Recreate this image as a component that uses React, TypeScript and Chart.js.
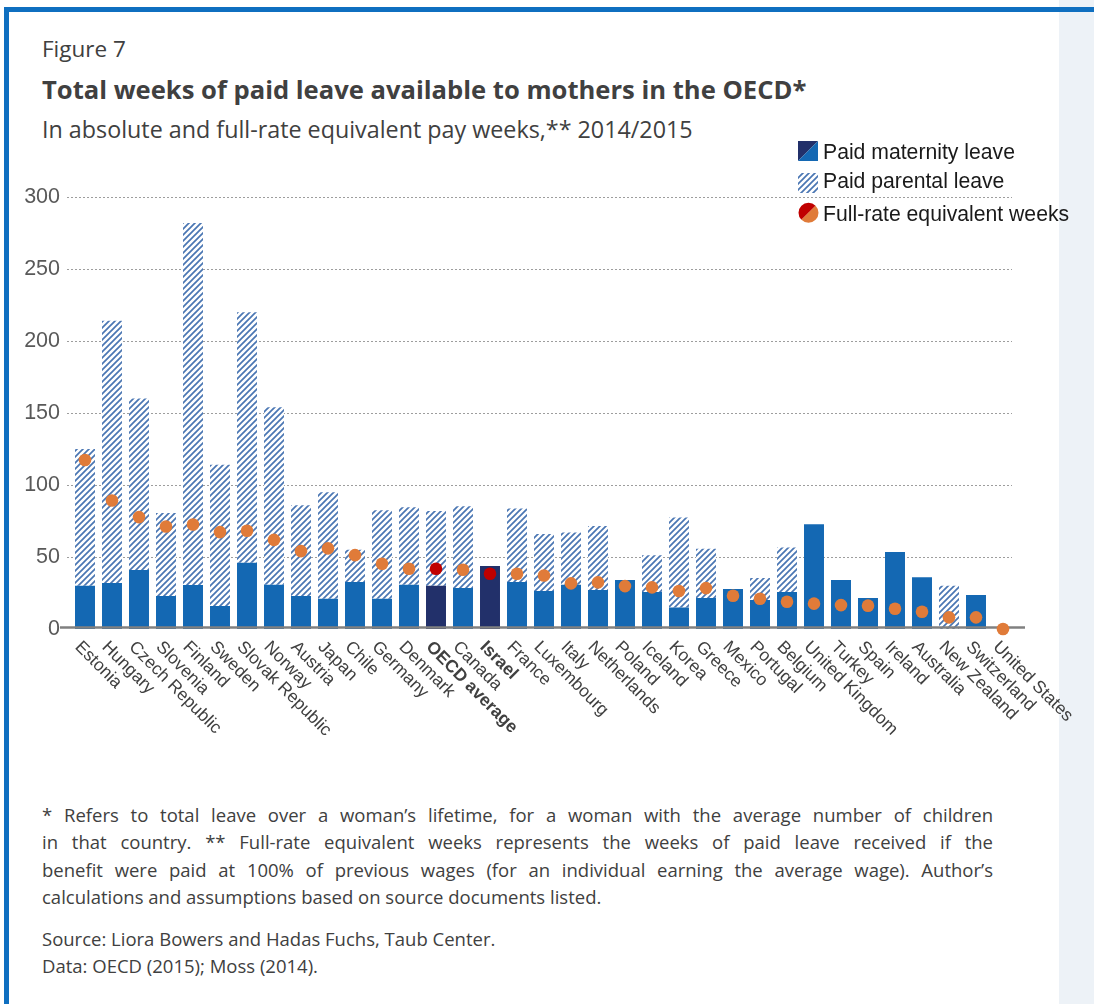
import React, { useEffect, useRef } from "react";
import { Chart, registerables } from "chart.js";

Chart.register(...registerables);

// Countries in display order (sorted by full-rate equivalent weeks)
const countries = [
  "Estonia", "Hungary", "Czech Republic", "Slovenia", "Finland", "Sweden",
  "Slovak Republic", "Norway", "Austria", "Japan", "Chile", "Germany",
  "Denmark", "OECD average", "Canada", "Israel", "France", "Luxembourg",
  "Italy", "Netherlands", "Poland", "Iceland", "Korea", "Greece", "Mexico",
  "Portugal", "Belgium", "United Kingdom", "Turkey", "Spain", "Ireland",
  "Australia", "New Zealand", "Switzerland", "United States",
];

// Weeks of paid maternity leave
const maternityWeeks = [
  30, 32, 41, 23, 30.5, 16, 46, 30.7, 23, 21, 32.6, 21,
  30.7, 30, 28.4, 43.7, 32.6, 26.4, 30.7, 27, 34, 25.7, 15, 21.5, 27.7,
  20.1, 25.7, 72.8, 34, 21.5, 53.4, 36, 0, 23.6, 0,
];

// Weeks of paid parental leave (stacked on top of maternity leave)
const parentalWeeks = [
  95, 182, 119, 57.5, 251.5, 98, 174, 123.3, 63, 74, 22.4, 61.5,
  53.8, 52, 56.9, 0, 51.1, 39.6, 36.3, 44.5, 0, 25.6, 62.5, 34.2, 0,
  15.3, 30.9, 0, 0, 0, 0, 0, 30, 0, 0,
];

// Full-rate equivalent weeks
const fullRateWeeks = [
  117.4, 89.2, 77.7, 71.2, 72.6, 67.3, 68.2, 61.9, 54.1, 56, 51.3, 45.3,
  41.8, 41.8, 41.1, 38.4, 38.4, 37.2, 31.7, 32.4, 29.8, 28.9, 26.4, 28.4, 23.1,
  21, 18.9, 17.6, 16.6, 16.2, 14.1, 12, 8.1, 8.1, 0,
];

const highlighted = ["OECD average", "Israel"];
const yTicks = [0, 50, 100, 150, 200, 250, 300];

const legendItems = [
  "Paid maternity leave",
  "Paid parental leave",
  "Full-rate equivalent weeks",
];

const footnoteJustified = [
  "* Refers to total leave over a woman’s lifetime, for a woman with the average number of children",
  "in that country. ** Full-rate equivalent weeks represents the weeks of paid leave received if the",
  "benefit were paid at 100% of previous wages (for an individual earning the average wage). Author’s",
];
const footnoteLast = "calculations and assumptions based on source documents listed.";
const sourceLine = "Source: Liora Bowers and Hadas Fuchs, Taub Center.";
const dataLine = "Data: OECD (2015); Moss (2014).";

const CANVAS_TOP = 130;
const CANVAS_W = 1094;
const CANVAS_H = 650;

const BLUE = "#1468b3";
const NAVY = "#22306a";
const HATCH = "#4a76b3";
const ORANGE = "#e07b39";
const RED = "#c00000";
const TEXT = "#404040";
const LABEL_FONT = '"Liberation Sans", Arial, sans-serif';

function makeHatch(): CanvasPattern | string {
  const c = document.createElement("canvas");
  c.width = 6;
  c.height = 6;
  const g = c.getContext("2d");
  if (!g) return HATCH;
  g.fillStyle = "#ffffff";
  g.fillRect(0, 0, 6, 6);
  g.strokeStyle = HATCH;
  g.lineWidth = 1.7;
  g.beginPath();
  g.moveTo(-1, 7);
  g.lineTo(7, -1);
  g.moveTo(-2, 2);
  g.lineTo(2, -2);
  g.moveTo(4, 8);
  g.lineTo(8, 4);
  g.stroke();
  return g.createPattern(c, "repeat") || HATCH;
}

function drawLegend(ctx: CanvasRenderingContext2D, hatch: CanvasPattern | string) {
  const x0 = 798;
  const top = (pageY: number) => pageY - CANVAS_TOP;
  ctx.save();
  // maternity: split square
  ctx.fillStyle = NAVY;
  ctx.beginPath();
  ctx.moveTo(x0, top(141));
  ctx.lineTo(x0 + 20, top(141));
  ctx.lineTo(x0, top(161));
  ctx.closePath();
  ctx.fill();
  ctx.fillStyle = BLUE;
  ctx.beginPath();
  ctx.moveTo(x0 + 20, top(141));
  ctx.lineTo(x0 + 20, top(161));
  ctx.lineTo(x0, top(161));
  ctx.closePath();
  ctx.fill();
  // parental: hatched square
  ctx.fillStyle = hatch;
  ctx.fillRect(x0, top(173), 20, 20);
  // full-rate: split circle
  const cx = x0 + 10.5;
  const cy = top(212.7);
  ctx.fillStyle = RED;
  ctx.beginPath();
  ctx.moveTo(cx, cy);
  ctx.arc(cx, cy, 10, (3 * Math.PI) / 4, (7 * Math.PI) / 4, false);
  ctx.closePath();
  ctx.fill();
  ctx.fillStyle = ORANGE;
  ctx.beginPath();
  ctx.moveTo(cx, cy);
  ctx.arc(cx, cy, 10, -Math.PI / 4, (3 * Math.PI) / 4, false);
  ctx.closePath();
  ctx.fill();

  ctx.fillStyle = "#1a1a1a";
  ctx.font = `21.2px ${LABEL_FONT}`;
  ctx.textBaseline = "alphabetic";
  ctx.textAlign = "left";
  const baselines = [158.5, 188, 221];
  legendItems.forEach((t, i) => ctx.fillText(t, 823, top(baselines[i])));
  ctx.restore();
}

export default function App() {
  const canvasRef = useRef<HTMLCanvasElement | null>(null);

  useEffect(() => {
    const canvas = canvasRef.current;
    if (!canvas) return;
    const hatch = makeHatch();

    const decor = {
      id: "decor",
      beforeDatasetsDraw(chart: any) {
        const { ctx, chartArea } = chart;
        const y = chart.scales.y;
        ctx.save();
        ctx.strokeStyle = "#9d9d9d";
        ctx.lineWidth = 1;
        ctx.setLineDash([2, 2]);
        yTicks.forEach((v) => {
          if (v === 0) return;
          const py = Math.round(y.getPixelForValue(v)) + 0.5;
          ctx.beginPath();
          ctx.moveTo(chartArea.left - 4.5, py);
          ctx.lineTo(chartArea.right - 4.5, py);
          ctx.stroke();
        });
        ctx.restore();
      },
      beforeDatasetDraw(chart: any, args: any) {
        if (args.meta.type !== "line") return;
        const { ctx, chartArea } = chart;
        const py = chart.scales.y.getPixelForValue(0) - 1.5;
        ctx.save();
        ctx.strokeStyle = "#808080";
        ctx.lineWidth = 2.5;
        ctx.beginPath();
        ctx.moveTo(chartArea.left - 11.5, py);
        ctx.lineTo(chartArea.right + 8.5, py);
        ctx.stroke();
        ctx.restore();
      },
      afterDraw(chart: any) {
        const { ctx, chartArea } = chart;
        const x = chart.scales.x;
        const base = chartArea.bottom + 10;
        countries.forEach((name, i) => {
          const px = x.getPixelForValue(i) - 2;
          ctx.save();
          ctx.translate(px, base);
          ctx.rotate(Math.PI / 4);
          const bold = highlighted.includes(name);
          ctx.font = `${bold ? "bold " : ""}17.5px ${LABEL_FONT}`;
          ctx.fillStyle = TEXT;
          ctx.textBaseline = "alphabetic";
          ctx.textAlign = "left";
          ctx.fillText(name, 0, 12.5);
          ctx.restore();
        });
        drawLegend(ctx, hatch);
      },
    };

    const chart = new Chart(canvas, {
      type: "bar",
      data: {
        labels: countries,
        datasets: [
          {
            type: "line",
            label: legendItems[2],
            data: fullRateWeeks,
            showLine: false,
            pointRadius: 6.3,
            pointHoverRadius: 6.3,
            pointBorderWidth: 0,
            pointBackgroundColor: countries.map((c) => (highlighted.includes(c) ? RED : ORANGE)),
            pointBorderColor: "rgba(0,0,0,0)",
            stack: "fullRate",
            order: 0,
            clip: false,
          } as any,
          {
            type: "bar",
            label: legendItems[0],
            data: maternityWeeks,
            backgroundColor: countries.map((c) => (highlighted.includes(c) ? NAVY : BLUE)),
            borderWidth: 0,
            stack: "leave",
            order: 1,
            barPercentage: 0.74,
            categoryPercentage: 1,
          },
          {
            type: "bar",
            label: legendItems[1],
            data: parentalWeeks,
            backgroundColor: hatch as any,
            borderWidth: 0,
            stack: "leave",
            order: 1,
            barPercentage: 0.74,
            categoryPercentage: 1,
          },
        ],
      },
      options: {
        responsive: false,
        animation: false,
        events: [],
        layout: { padding: { left: 0, right: 77.5, top: 67, bottom: 0 } },
        plugins: {
          legend: { display: false },
          tooltip: { enabled: false },
        },
        scales: {
          x: {
            stacked: true,
            grid: { display: false, drawTicks: false },
            border: { display: false },
            ticks: { display: false },
            afterFit: (scale: any) => {
              scale.height = 151;
            },
          },
          y: {
            stacked: true,
            min: 0,
            max: 300,
            grid: { display: false, drawTicks: false },
            border: { display: false },
            ticks: {
              stepSize: 50,
              padding: 11.5,
              color: "#595959",
              font: { family: LABEL_FONT, size: 21.5 },
            },
            afterFit: (scale: any) => {
              scale.width = 71.5;
            },
          },
        },
      },
      plugins: [decor],
    });

    return () => chart.destroy();
  }, []);

  const face = '"Open Sans", Lato, sans-serif';
  const noteStyle = {
    position: "absolute" as const,
    left: 42,
    fontSize: 18.5,
    lineHeight: "18.5px",
  };

  return (
    <div
      style={{
        position: "fixed",
        left: 0,
        top: 0,
        width: 1094,
        height: 1004,
        background: "#ffffff",
        overflow: "hidden",
        fontFamily: face,
        color: TEXT,
      }}
    >
      <div style={{ position: "absolute", left: 1059, top: 0, width: 35, height: 1004, background: "#edf2f7" }} />
      <div style={{ position: "absolute", left: 4, top: 7, width: 1090, height: 5, background: "#0f6fc0" }} />
      <div style={{ position: "absolute", left: 4, top: 7, width: 5, height: 997, background: "#0f6fc0" }} />

      <div style={{ position: "absolute", left: 42, top: 37.8, fontSize: 22.5, lineHeight: "22.5px", whiteSpace: "nowrap" }}>
        Figure 7
      </div>
      <div
        style={{
          position: "absolute",
          left: 42,
          top: 76.5,
          fontSize: 25.6,
          lineHeight: "25.6px",
          fontWeight: 700,
          whiteSpace: "nowrap",
        }}
      >
        Total weeks of paid leave available to mothers in the OECD*
      </div>
      <div style={{ position: "absolute", left: 42, top: 118, fontSize: 23.3, lineHeight: "23.3px", whiteSpace: "nowrap" }}>
        In absolute and full-rate equivalent pay weeks,** 2014/2015
      </div>

      <div style={{ position: "absolute", left: 0, top: CANVAS_TOP, width: CANVAS_W, height: CANVAS_H }}>
        <canvas
          ref={canvasRef}
          width={CANVAS_W}
          height={CANVAS_H}
          style={{ display: "block", width: CANVAS_W, height: CANVAS_H }}
        />
      </div>

      {footnoteJustified.map((line, i) => (
        <div
          key={i}
          style={{
            ...noteStyle,
            top: 805.5 + i * 27.6,
            width: 951,
            textAlign: "justify",
            textAlignLast: "justify",
          }}
        >
          {line}
        </div>
      ))}
      <div style={{ ...noteStyle, top: 805.5 + 3 * 27.6, whiteSpace: "nowrap" }}>{footnoteLast}</div>
      <div style={{ ...noteStyle, top: 929.5, whiteSpace: "nowrap" }}>{sourceLine}</div>
      <div style={{ ...noteStyle, top: 956.5, whiteSpace: "nowrap" }}>{dataLine}</div>
    </div>
  );
}
